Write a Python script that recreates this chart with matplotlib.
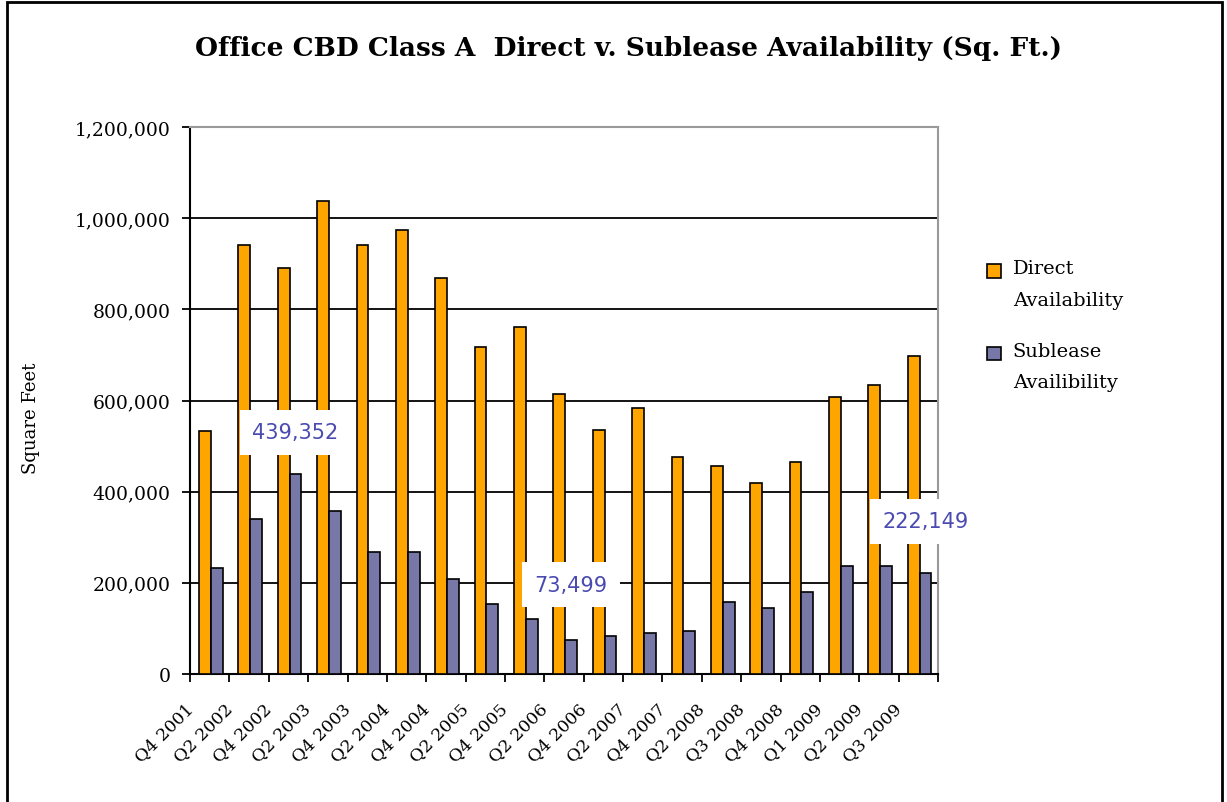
import matplotlib.pyplot as plt
import numpy as np
from matplotlib.patches import Rectangle
from matplotlib.container import BarContainer
from matplotlib.legend_handler import HandlerPatch, update_from_first_child

quarters = ['Q4 2001', 'Q2 2002', 'Q4 2002', 'Q2 2003', 'Q4 2003', 'Q2 2004',
            'Q4 2004', 'Q2 2005', 'Q4 2005', 'Q2 2006', 'Q4 2006', 'Q2 2007',
            'Q4 2007', 'Q2 2008', 'Q3 2008', 'Q4 2008', 'Q1 2009', 'Q2 2009',
            'Q3 2009']
direct = [533000, 942000, 891000, 1037000, 942000, 974000, 868000, 718000,
          761000, 614000, 536000, 584000, 477000, 457000, 418000, 465000,
          607000, 634000, 698000]
sublease = [232000, 339000, 439352, 358000, 267000, 267000, 208000, 153000,
            121000, 73499, 83000, 90000, 94000, 157000, 145000, 180000,
            236000, 236000, 222149]
# labelled points (index into the series)
labelled = [2, 9, 18]

serif = 'DejaVu Serif'

fig = plt.figure(figsize=(12.27, 8.03), dpi=100)
ax = fig.add_axes([0.1549, 0.1594, 0.6096, 0.6812])

x = np.arange(len(quarters))
w = 0.3
shift = 0.03
ax.bar(x - w/2 + shift, direct, w, color='#FFA500', edgecolor='black',
       linewidth=1.2, label='Direct\nAvailability', zorder=3)
ax.bar(x + w/2 + shift, sublease, w, color='#7878A8', edgecolor='black',
       linewidth=1.2, label='Sublease\nAvailibility', zorder=3)

ax.set_xlim(-0.5, len(quarters) - 0.5)
ax.set_ylim(0, 1200000)
ax.set_yticks(np.arange(0, 1200001, 200000))
ax.set_yticklabels(['{:,}'.format(v) for v in range(0, 1200001, 200000)],
                   family=serif, fontsize=13.5)
ax.yaxis.grid(True, color='black', linewidth=1.3, zorder=1)
ax.set_axisbelow(True)

# boundary ticks between categories, labels sit left of the centre
ax.set_xticks(np.arange(-0.5, len(quarters)), minor=False)
ax.set_xticklabels([])
ax.set_xticks(x - 0.34, minor=True)
ax.set_xticklabels(quarters, minor=True, rotation=45, ha='right', va='bottom',
                   rotation_mode='anchor', family=serif, fontsize=12.5)
ax.tick_params(axis='x', which='minor', length=0, pad=27)
ax.tick_params(axis='x', which='major', length=6, width=1.3, direction='out')
ax.tick_params(axis='y', length=6, width=1.3, direction='out', pad=8)

for side in ['left', 'bottom']:
    ax.spines[side].set_linewidth(1.5)
for side in ['top', 'right']:
    ax.spines[side].set_color('#999999')
    ax.spines[side].set_linewidth(1.5)

ax.set_ylabel('Square Feet', family=serif, fontsize=13)
ax.yaxis.set_label_coords(-0.2, 0.47)

offsets = [30, 40, 37]
for i, off in zip(labelled, offsets):
    ax.annotate('{:,}'.format(sublease[i]), (x[i] + w/2 + shift, sublease[i]),
                xytext=(0, off), textcoords='offset points', ha='center',
                va='center', fontsize=15, color='#4A4AB0', zorder=5,
                bbox=dict(boxstyle='square,pad=0.6', fc='white', ec='none'))

fig.text(0.512, 0.94, 'Office CBD Class A  Direct v. Sublease Availability (Sq. Ft.)',
         ha='center', va='center', family=serif, fontweight='bold',
         fontsize=19)


def top_square(legend, orig_handle, xdescent, ydescent, width, height, fontsize):
    # keep the key square level with the first line of the label
    return Rectangle((-xdescent, -ydescent + 0.67 * fontsize), width, height)


leg = ax.legend(loc='upper left', bbox_to_anchor=(1.042, 0.79), frameon=False,
                prop={'family': serif, 'size': 14},
                handlelength=0.72, handleheight=0.72, handletextpad=0.6,
                labelspacing=1.7,
                handler_map={BarContainer: HandlerPatch(
                    patch_func=top_square, update_func=update_from_first_child)})
for t in leg.get_texts():
    t.set_linespacing(1.95)

fig.patches.append(Rectangle((0.006, -0.05), 0.99, 1.046,
                             transform=fig.transFigure, fill=False,
                             edgecolor='black', linewidth=2))

fig.savefig('out.png', dpi=100)
